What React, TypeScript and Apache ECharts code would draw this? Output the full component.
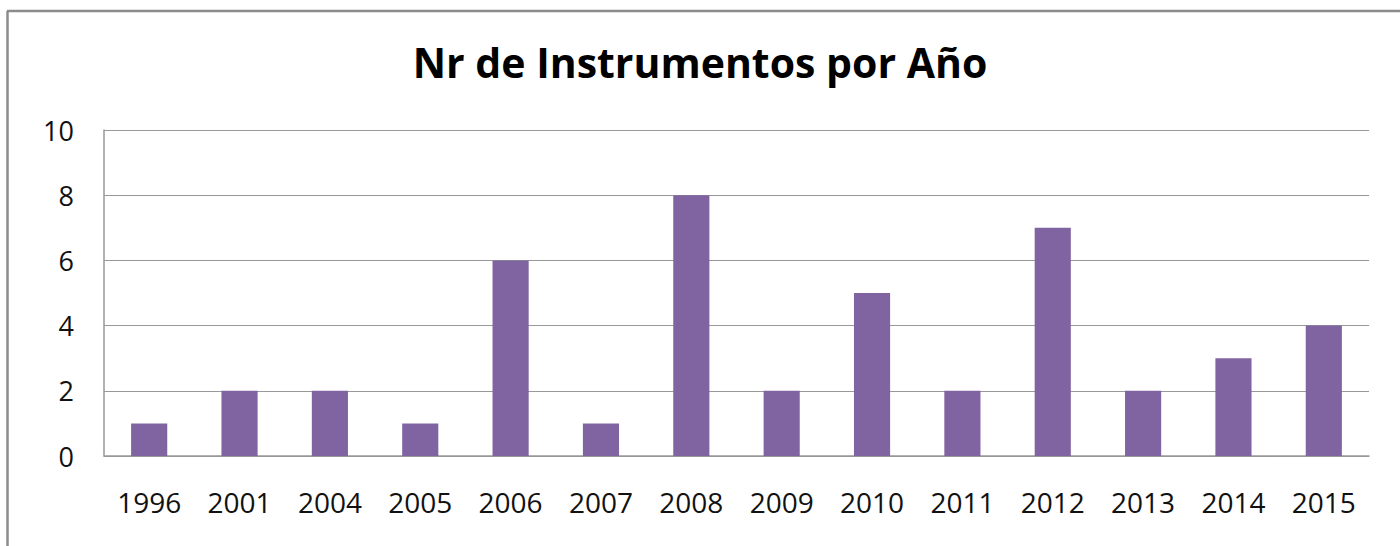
import React, { useEffect, useRef } from "react";
import * as echarts from "echarts";

const titleText = "Nr de Instrumentos por Año";
const years = ["1996", "2001", "2004", "2005", "2006", "2007", "2008", "2009", "2010", "2011", "2012", "2013", "2014", "2015"];
const counts = [1, 2, 2, 1, 6, 1, 8, 2, 5, 2, 7, 2, 3, 4];

export default function App() {
  const ref = useRef<HTMLDivElement>(null);
  useEffect(() => {
    if (!ref.current) return;
    const chart = echarts.init(ref.current, undefined, { renderer: "svg" });
    const font = "'Open Sans', 'Noto Sans', sans-serif";
    chart.setOption({
      animation: false,
      backgroundColor: "#ffffff",
      title: {
        text: titleText,
        left: "center",
        top: 36,
        textStyle: { fontFamily: font, fontWeight: "bold", fontSize: 41, color: "#000" },
      },
      graphic: [
        { type: "line", shape: { x1: 7.5, y1: 11, x2: 7.5, y2: 546 }, style: { stroke: "#8c8c8c", lineWidth: 2.5 } },
        { type: "line", shape: { x1: 7, y1: 11, x2: 1400, y2: 11 }, style: { stroke: "#8c8c8c", lineWidth: 2.5 } },
      ],
      grid: { left: 104, right: 31, top: 130, bottom: 90, containLabel: false },
      xAxis: {
        type: "category",
        data: years,
        axisLine: { show: true, lineStyle: { color: "#999", width: 1.5 } },
        axisTick: { show: false },
        axisLabel: { fontFamily: font, fontSize: 28, color: "#111", margin: 32 },
      },
      yAxis: {
        type: "value",
        min: 0,
        max: 10,
        interval: 2,
        axisLine: { show: true, lineStyle: { color: "#999", width: 1.5 } },
        axisTick: { show: false },
        splitLine: { lineStyle: { color: "#999", width: 1 } },
        axisLabel: { fontFamily: font, fontSize: 27, color: "#111", margin: 30 },
      },
      series: [
        {
          type: "bar",
          data: counts,
          barWidth: "40%",
          itemStyle: { color: "#8064A2" },
        },
      ],
    });
    return () => chart.dispose();
  }, []);
  return (
    <div
      ref={ref}
      style={{ position: "fixed", left: 0, top: 0, width: 1400, height: 546 }}
    />
  );
}
